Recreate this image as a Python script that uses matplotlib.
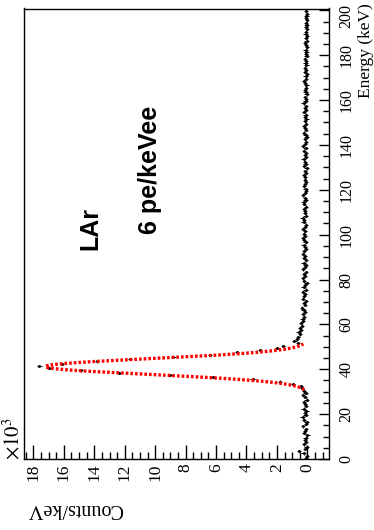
import numpy as np
import matplotlib
matplotlib.use("Agg")
import matplotlib.pyplot as plt
from matplotlib.ticker import MultipleLocator, FuncFormatter
from matplotlib.transforms import ScaledTranslation

plt.rcParams["mathtext.fontset"] = "stix"

# Spectrum: 1 keV bins starting at 0 keV, counts/keV in units of 10^3
bin_width_kev = 1.0
counts_low = [0.10, 0.02, 0.25, 0.55, 0.15, 0.05, 0.20, 0.08, 0.18, 0.12,
              0.00, 0.22, 0.15, 0.08, 0.28, 0.10, 0.05, 0.20, 0.32, 0.12,
              0.18, 0.06, 0.25, 0.10, 0.15, 0.22, 0.05, 0.18, 0.30, 0.12,
              0.20, 0.35]
counts_peak = [0.45, 0.94, 1.8, 3.6, 6.2, 9.0, 12.4, 14.9, 17.0, 17.6,
               16.1, 13.8, 11.65, 8.8, 6.4, 4.6, 3.1, 2.0, 1.6, 0.6]
counts_mid = [0.85, 0.70, 0.62, 0.50, 0.58, 0.42, 0.48, 0.35, 0.40, 0.28,
              0.32, 0.20, 0.30, 0.15, 0.25, 0.35, 0.18, 0.22, 0.10, 0.28,
              0.20, 0.15, 0.30, 0.12, 0.25, 0.18, 0.05, 0.22, 0.30, 0.15,
              0.20, 0.10, 0.28, 0.18, 0.12, 0.25, 0.08, 0.20, 0.15, 0.30,
              0.22, 0.10, 0.18, 0.25, 0.12, 0.20, 0.28, 0.15]
counts_high = [0.22, 0.15, 0.28, 0.18, 0.10, 0.25, 0.20, 0.32, 0.12, 0.18,
               0.15, 0.22, 0.08, 0.20, 0.25, 0.12, 0.18, 0.28, 0.15, 0.10,
               0.12, 0.20, 0.15, 0.08, 0.18, 0.14, 0.22, 0.10, 0.16, 0.05,
               0.20, 0.12, 0.18, 0.25, 0.10, 0.15, 0.08, 0.20, 0.12, 0.30,
               0.15, 0.10, 0.18, 0.05, 0.12, 0.20, 0.08, 0.15, 0.22, 0.10,
               0.14, 0.06, 0.18, 0.12, 0.20, 0.08, 0.15, 0.10, 0.25, 0.12,
               0.08, 0.15, 0.05, 0.12, 0.18, 0.10, 0.06, 0.14, 0.20, 0.08,
               0.12, 0.04, 0.15, 0.10, 0.18, 0.06, 0.12, 0.08, 0.15, 0.05,
               0.10, 0.06, 0.12, 0.02, 0.08, 0.14, 0.05, 0.10, 0.04, 0.12,
               0.07, 0.02, 0.10, 0.05, 0.08, 0.03, 0.10, 0.06, 0.04, 0.08]
count_error = 0.14

# Gaussian fit to the photo-peak
fit_amplitude = 17.2
fit_mean_kev = 41.2
fit_sigma_kev = 3.5
fit_range_kev = (30.8, 51.3)

counts = np.array(counts_low + counts_peak + counts_mid + counts_high)
energy = (np.arange(len(counts)) + 0.5) * bin_width_kev

W, H = 374, 530
fig = plt.figure(figsize=(W / 100, H / 100), dpi=100)
ax = fig.add_axes([23.5 / W, 71 / H, (329 - 23.5) / W, (521.5 - 71) / H])

# Energy runs vertically, counts horizontally (growing to the left)
ax.errorbar(counts, energy, xerr=count_error, yerr=bin_width_kev / 2,
            fmt="none", ecolor="black", elinewidth=0.7, capsize=0)
ax.plot(counts, energy, ls="none", marker="s", ms=1.0, color="black")

e_fit = np.linspace(fit_range_kev[0], fit_range_kev[1], 300)
c_fit = fit_amplitude * np.exp(-0.5 * ((e_fit - fit_mean_kev) / fit_sigma_kev) ** 2)
ax.plot(c_fit, e_fit, color="red", lw=2.4, ls=(0, (0.8, 0.6)),
        dash_capstyle="butt")

ax.set_xlim(18.65, -1.42)
ax.set_ylim(0, 200.8)

serif = "Liberation Serif"
sans = "Liberation Sans"

ax.xaxis.set_major_locator(MultipleLocator(2))
ax.xaxis.set_minor_locator(MultipleLocator(0.5))
ax.yaxis.set_major_locator(MultipleLocator(20))
ax.yaxis.set_minor_locator(MultipleLocator(5))
ax.yaxis.tick_right()
ax.tick_params(axis="x", which="major", direction="in", length=10, width=1.0,
               pad=3, labelsize=12.5, labelrotation=90)
ax.tick_params(axis="x", which="minor", direction="in", length=5, width=1.0)
ax.tick_params(axis="y", which="major", direction="in", length=7.5, width=1.0,
               pad=7, labelsize=11.5, labelrotation=90)
ax.tick_params(axis="y", which="minor", direction="in", length=4, width=1.0)
ax.tick_params(top=False, left=False, which="both")
ax.xaxis.set_major_formatter(FuncFormatter(lambda v, p: f"{v:.0f}"))
for s in ax.spines.values():
    s.set_linewidth(1.0)

fig.canvas.draw()
for lab in ax.get_xticklabels() + ax.get_yticklabels():
    lab.set_fontfamily(serif)
for tick in ax.yaxis.get_major_ticks():
    lab = tick.label2
    lab.set_verticalalignment("center")
    lab.set_horizontalalignment("left")
    if tick.get_loc() >= 200:
        # keep the topmost label inside the canvas
        lab.set_transform(lab.get_transform()
                          + ScaledTranslation(0, -4 / 72, fig.dpi_scale_trans))

fig.text(365.5 / W, 1 - 98 / H, "Energy (keV)", rotation=90, ha="center",
         va="bottom", fontsize=12.5, family=serif)
fig.text(75 / W, 1 - 508 / H, "Counts/keV", rotation=180, ha="center",
         va="center", fontsize=14.5, family=serif)
fig.text(13 / W, 1 - 460 / H, r"$\times10^{3}$", rotation=90, ha="center",
         va="bottom", fontsize=15)

fig.text(90 / W, 1 - 228 / H, "LAr", rotation=90, ha="center", va="center",
         fontsize=18, fontweight="bold", family=sans)
fig.text(150 / W, 1 - 170 / H, "6 pe/keVee", rotation=90, ha="center",
         va="center", fontsize=18, fontweight="bold", family=sans)

fig.savefig("out.png", dpi=100)
